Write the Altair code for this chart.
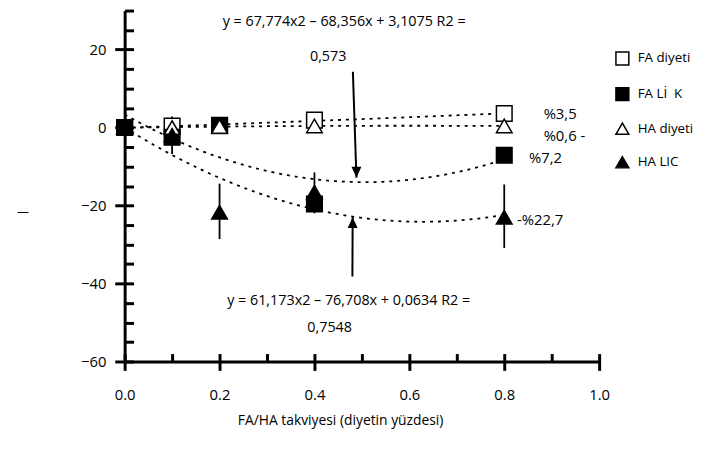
import altair as alt
import pandas as pd

# ---------------- data ----------------
doses = [0.0, 0.1, 0.2, 0.4, 0.8]
series_names = ["FA diyeti", "FA Lİ\u00a0\u00a0K", "HA diyeti", "HA LIC"]
fa_diet = [0.0, 0.4, 0.5, 1.9, 3.6]
fa_lik = [0.0, -2.5, 0.6, -19.6, -7.1]
ha_diet = [0.0, 0.0, 0.3, 0.4, 0.4]
ha_lic = [0.0, -2.0, -21.7, -16.6, -23.0]

err_x = [0.1, 0.2, 0.4, 0.8]
err_lo = [-6.8, -28.6, -22.0, -30.9]
err_hi = [2.8, -14.4, -11.5, -14.6]

pct_labels = ["%3,5", "%0,6 -", "%7,2", "-%22,7"]
pct_x = [0.883, 0.883, 0.852, 0.827]
pct_y = [3.4, -2.2, -7.8, -23.75]

eq_labels = ["y = 67,774x2 – 68,356x + 3,1075 R2 =", "0,573",
             "y = 61,173x2 – 76,708x + 0,0634 R2 =", "0,7548"]
eq_x = [0.4625, 0.429, 0.472, 0.432]
eq_y = [27.0, 18.1, -44.5, -51.4]

arrow_x = [0.481, 0.480]
arrow_x2 = [0.4885, 0.4805]
arrow_y = [14.3, -38.2]
arrow_tip = [-12.85, -23.0]

x_major = [0.0, 0.2, 0.4, 0.6, 0.8, 1.0]
x_minor = [round(0.1 * i, 1) for i in range(11)]
y_major = [-60, -40, -20, 0, 20]
y_minor = list(range(-60, 31, 5))

y_title = ["—"]

FONT = "Open Sans"

# ---------------- tables ----------------
rows = []
for name, vals in zip(series_names, [fa_diet, fa_lik, ha_diet, ha_lic]):
    for d, v in zip(doses, vals):
        rows.append({"dose": d, "val": v, "series": name})
pts = pd.DataFrame(rows)

errs = pd.DataFrame({"dose": err_x, "lo": err_lo, "hi": err_hi})
pcts = pd.DataFrame({"dose": pct_x, "val": pct_y, "txt": pct_labels})
eqs = pd.DataFrame({"dose": eq_x, "val": eq_y, "txt": eq_labels})
arrows = pd.DataFrame({"dose": arrow_x, "dose2": arrow_x2, "val": arrow_y,
                       "tip": arrow_tip, "dir": ["down", "up"]})
ytitle = pd.DataFrame({"txt": y_title})

xs = alt.Scale(domain=[0, 1], nice=False, zero=False)
ys = alt.Scale(domain=[-60, 30], nice=False, zero=False)

def X(field, axis=None):
    return alt.X(field, type="quantitative", scale=xs, axis=axis)

def Y(field, axis=None):
    return alt.Y(field, type="quantitative", scale=ys, axis=axis)

main_x_axis = alt.Axis(orient="bottom", values=x_major, format=".1f", tickSize=9,
                       tickWidth=3, tickColor="black", domain=True, domainWidth=3,
                       domainColor="black", labelFlush=False,
                       labelFontSize=15, labelFont=FONT, labelColor="black", labelPadding=17,
                       grid=False, title="FA/HA takviyesi (diyetin yüzdesi)",
                       titleFont=FONT, titleFontSize=14, titleFontWeight="normal",
                       titleColor="black", titleX=218, titleY=60, titleBaseline="middle")
main_y_axis = alt.Axis(orient="left", values=y_major, format="d", tickSize=10,
                       tickWidth=3, tickColor="black", domain=True, domainWidth=3,
                       domainColor="black", labelFlush=False,
                       labelFontSize=15, labelFont=FONT, labelColor="black", labelPadding=9,
                       grid=False, title=None)
inner_x_axis = alt.Axis(orient="top", offset=-355, values=x_minor, tickSize=8,
                        tickWidth=3, tickColor="black", labels=False, domain=False,
                        grid=False, title=None)
inner_y_axis = alt.Axis(orient="right", offset=-480, values=y_minor, tickSize=9,
                        tickWidth=3, tickColor="black", labels=False, domain=False,
                        grid=False, title=None)

# error bars (host of the main axes)
err_layer = alt.Chart(errs).mark_rule(color="black", strokeWidth=1.8).encode(
    x=X("dose", main_x_axis), y=Y("lo", main_y_axis), y2="hi")

# quadratic trend lines (host of the inner tick axes)
trend_layer = alt.Chart(pts).transform_regression(
    "dose", "val", method="poly", order=2, groupby=["series"]
).mark_line(color="black", strokeWidth=1.8, strokeDash=[3, 5]).encode(
    x=X("dose", inner_x_axis), y=Y("val", inner_y_axis), detail="series:N")

legend = alt.Legend(title=None, orient="none", legendX=496, legendY=41,
                    symbolSize=170, rowPadding=15, labelFontSize=13.5, labelFont=FONT,
                    labelColor="black", labelOffset=8, labelLimit=200,
                    symbolStrokeColor="black", symbolStrokeWidth=1.5, symbolOpacity=1)

point_layer = alt.Chart(pts).mark_point(strokeWidth=1.5, opacity=1,
                                        fillOpacity=1, size=250).encode(
    x=X("dose"), y=Y("val"),
    shape=alt.Shape("series:N", sort=series_names,
                    scale=alt.Scale(domain=series_names,
                                    range=["square", "square", "triangle-up", "triangle-up"]),
                    legend=legend),
    fill=alt.Fill("series:N", sort=series_names,
                  scale=alt.Scale(domain=series_names,
                                  range=["white", "black", "white", "black"]),
                  legend=legend),
    stroke=alt.Stroke("series:N", sort=series_names,
                      scale=alt.Scale(domain=series_names,
                                      range=["black", "black", "black", "black"]),
                      legend=legend),
)

pct_layer = alt.Chart(pcts).mark_text(align="left", baseline="middle", font=FONT,
                                      fontSize=15, color="black").encode(
    x=X("dose"), y=Y("val"), text="txt:N")

eq_layer = alt.Chart(eqs).mark_text(align="center", baseline="middle", font=FONT,
                                    fontSize=14.5, color="black").encode(
    x=X("dose"), y=Y("val"), text="txt:N")

shaft_layer = alt.Chart(arrows).mark_rule(color="black", strokeWidth=2).encode(
    x=X("dose"), x2="dose2", y=Y("val"), y2="tip")

head_down = alt.Chart(arrows).transform_filter(alt.datum.dir == "down").mark_point(
    shape="M-1,-2.2L1,-2.2L0,0Z", filled=True, color="black", opacity=1, size=100
).encode(x=X("dose2"), y=Y("tip"))

head_up = alt.Chart(arrows).transform_filter(alt.datum.dir == "up").mark_point(
    shape="M-1,2.2L1,2.2L0,0Z", filled=True, color="black", opacity=1, size=100
).encode(x=X("dose2"), y=Y("tip"))

# stray y-axis title glyph, left of the axis
ytitle_layer = alt.Chart(ytitle).mark_text(align="center", baseline="middle", font=FONT,
                                           fontSize=12, color="black").encode(
    x=alt.value(-103), y=alt.value(204), text="txt:N")

chart = alt.layer(
    err_layer, trend_layer, point_layer, pct_layer, eq_layer,
    shaft_layer, head_down, head_up, ytitle_layer
).resolve_axis(x="independent", y="independent").properties(
    width=480, height=355,
    autosize=alt.AutoSizeParams(type="none"),
    padding={"left": 118, "top": 0, "right": 100, "bottom": 90},
    background="white",
).configure_view(stroke=None)

chart.save("out.html", embed_options={"renderer": "svg", "actions": False})
